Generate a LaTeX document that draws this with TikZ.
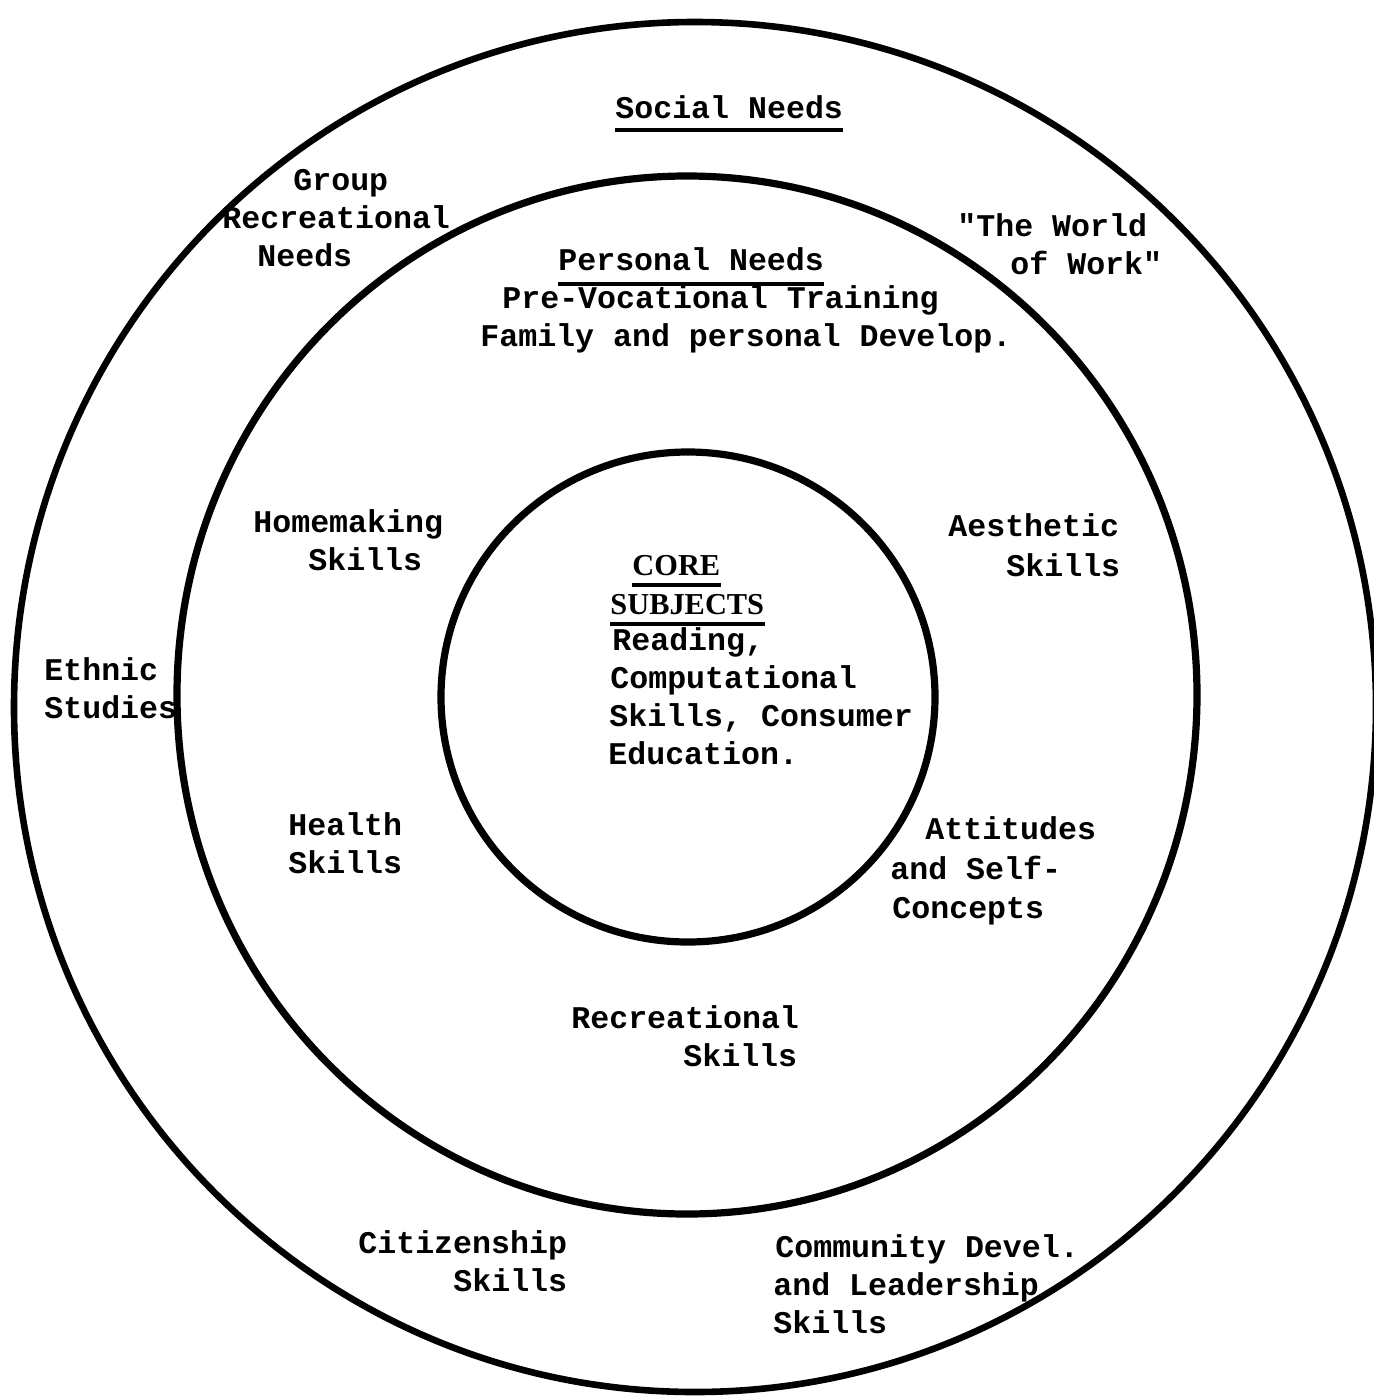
\documentclass[tikz,border=0pt]{standalone}
\usepackage{fontspec}
\newfontfamily\tw{Liberation Mono}
\newfontfamily\twserif{Liberation Serif}
\begin{document}
\begin{tikzpicture}[x=0.5pt,y=-0.5pt,
  ring/.style={draw=black,line width=3.3pt},
  txt/.style={anchor=base west,inner sep=0pt,font=\tw\bfseries\fontsize{15.8}{19}\selectfont},
  serif/.style={anchor=base west,inner sep=0pt,font=\twserif\bfseries\fontsize{15.2}{18}\selectfont},
  uline/.style={draw=black,line width=1.6pt}]
\useasboundingbox (0,0) rectangle (1374,1398);
\fill[white] (0,0) rectangle (1374,1398);
% circles
\draw[ring] (695,707) ellipse [x radius=681,y radius=685];
\draw[ring,line width=3.6pt] (687,695) ellipse [x radius=510,y radius=519];
\draw[ring,line width=3.6pt] (688,697) ellipse [x radius=247,y radius=245];
% outer ring texts
\node[txt] (sn) at (615,118) {Social Needs};
\draw[uline] ([yshift=-6pt]sn.base west) -- ([yshift=-6pt]sn.base east);
\node[txt] (g1) at (293,190) {Group};
\node[txt] (g2) at (222,228) {Recreational};
\node[txt] (g3) at (257,266) {Needs};
\node[txt] (w1) at (957,236) {"The World};
\node[txt] (w2) at (1010,274) {of Work"};
\node[txt] (e1) at (44,680) {Ethnic};
\node[txt] (e2) at (44,718) {Studies};
\node[txt] (c1) at (358,1253) {Citizenship};
\node[txt] (c2) at (453,1291) {Skills};
\node[txt] (d1) at (775,1257) {Community Devel.};
\node[txt] (d2) at (773,1295) {and Leadership};
\node[txt] (d3) at (773,1333) {Skills};
% middle ring texts
\node[txt] (pn) at (558,270) {Personal Needs};
\draw[uline] ([yshift=-7pt]pn.base west) -- ([yshift=-7pt]pn.base east);
\node[txt] (pv) at (502,308) {Pre-Vocational Training};
\node[txt] (fp) at (480,346) {Family and personal Develop.};
\node[txt] (h1) at (253,532) {Homemaking};
\node[txt] (h2) at (308,570) {Skills};
\node[txt] (a1) at (948,536) {Aesthetic};
\node[txt] (a2) at (1006,576) {Skills};
\node[txt] (hs1) at (288,835) {Health};
\node[txt] (hs2) at (288,873) {Skills};
\node[txt] (at1) at (925,839) {Attitudes};
\node[txt] (at2) at (890,879) {and Self-};
\node[txt] (at3) at (892,918) {Concepts};
\node[txt] (r1) at (571,1028) {Recreational};
\node[txt] (r2) at (683,1066) {Skills};
% inner circle texts
\node[serif] (core) at (632,575) {CORE};
\draw[uline] ([yshift=-5pt]core.base west) -- ([yshift=-5pt]core.base east);
\node[serif] (subj) at (610,614) {SUBJECTS};
\draw[uline] ([yshift=-5pt]subj.base west) -- ([yshift=-5pt]subj.base east);
\node[txt] (i1) at (612,650) {Reading,};
\node[txt] (i2) at (610,688) {Computational};
\node[txt] (i3) at (609,726) {Skills, Consumer};
\node[txt] (i4) at (608,764) {Education.};
\end{tikzpicture}
\end{document}
